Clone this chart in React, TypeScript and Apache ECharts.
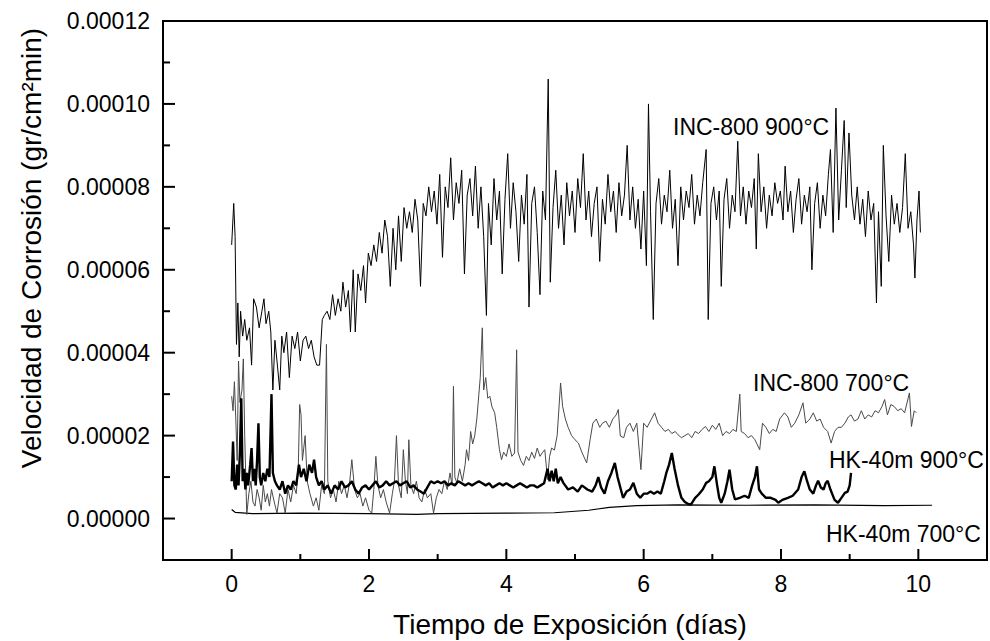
import React, { useEffect, useRef } from "react";
import * as echarts from "echarts";

// Values are in units of 1e-5 gr/cm²min ; time in days
const seriesNames = ["INC-800 900°C", "INC-800 700°C", "HK-40m 900°C", "HK-40m 700°C"];

const xTicks = [0, 2, 4, 6, 8, 10];
const xMinorTicks = [1, 3, 5, 7, 9];
const yTicks = [0, 2, 4, 6, 8, 10, 12];
const yMinorTicks = [1, 3, 5, 7, 9, 11];
const yTickLabels = ["0.00000", "0.00002", "0.00004", "0.00006", "0.00008", "0.00010", "0.00012"];
const xTitle = "Tiempo de Exposición (días)";
const yTitle = "Velocidad de Corrosión (gr/cm²min)";

const inc900: [number, number][] = [
  [0.0, 6.6], [0.03, 7.6], [0.05, 6.8], [0.07, 4.2], [0.09, 5.2], [0.11, 3.9], [0.13, 5.0], [0.16, 4.4],
  [0.19, 4.8], [0.22, 4.3], [0.26, 4.6], [0.29, 3.7], [0.32, 5.3], [0.36, 5.1], [0.4, 4.6], [0.44, 5.0],
  [0.47, 5.3], [0.5, 4.7], [0.54, 5.0], [0.57, 4.5], [0.6, 3.1], [0.63, 4.3], [0.66, 3.8], [0.7, 3.1],
  [0.73, 4.4], [0.76, 4.0], [0.8, 4.5], [0.84, 3.4], [0.88, 4.4], [0.92, 4.1], [0.96, 4.5], [1.0, 3.8],
  [1.04, 4.3], [1.08, 4.4], [1.12, 4.1], [1.16, 4.3], [1.2, 3.9], [1.24, 3.7], [1.28, 3.7], [1.32, 4.8],
  [1.35, 4.9], [1.39, 5.0], [1.43, 4.8], [1.47, 5.4], [1.51, 4.9], [1.55, 5.3], [1.59, 5.0], [1.62, 5.7],
  [1.66, 5.1], [1.7, 5.5], [1.73, 4.5], [1.77, 6.0], [1.8, 4.5], [1.84, 5.9], [1.88, 5.5], [1.92, 6.1],
  [1.95, 5.2], [1.99, 6.4], [2.03, 6.1], [2.07, 6.6], [2.11, 6.2], [2.15, 6.9], [2.19, 6.4], [2.23, 7.2],
  [2.27, 6.8], [2.31, 5.6], [2.35, 7.0], [2.39, 6.0], [2.43, 7.3], [2.47, 6.2], [2.51, 7.5], [2.55, 7.0],
  [2.59, 7.4], [2.63, 6.9], [2.67, 7.7], [2.71, 7.2], [2.75, 5.6], [2.79, 7.6], [2.83, 7.3], [2.87, 8.0],
  [2.91, 7.4], [2.95, 7.9], [2.99, 7.1], [3.03, 8.3], [3.07, 6.3], [3.11, 8.0], [3.15, 7.5], [3.19, 8.7],
  [3.23, 7.2], [3.27, 8.1], [3.31, 7.6], [3.35, 8.4], [3.39, 5.9], [3.43, 7.8], [3.47, 8.2], [3.51, 7.3],
  [3.55, 8.5], [3.59, 7.0], [3.63, 8.0], [3.67, 6.8], [3.71, 4.9], [3.74, 7.6], [3.78, 6.6], [3.82, 8.2],
  [3.86, 7.2], [3.9, 7.9], [3.94, 5.9], [3.98, 7.7], [4.02, 8.8], [4.06, 7.0], [4.1, 8.1], [4.14, 7.4],
  [4.18, 6.2], [4.22, 7.8], [4.26, 7.1], [4.3, 8.3], [4.33, 5.1], [4.37, 7.6], [4.41, 8.0], [4.45, 6.9],
  [4.49, 5.4], [4.53, 7.9], [4.57, 7.2], [4.61, 10.6], [4.64, 5.7], [4.68, 7.5], [4.72, 8.4], [4.76, 7.0],
  [4.8, 7.8], [4.84, 6.6], [4.88, 8.1], [4.92, 7.3], [4.96, 7.9], [5.0, 6.9], [5.04, 8.2], [5.08, 7.5],
  [5.12, 8.8], [5.16, 7.2], [5.2, 7.9], [5.24, 6.8], [5.28, 7.6], [5.32, 8.0], [5.36, 6.2], [5.4, 7.7],
  [5.44, 7.1], [5.48, 8.3], [5.52, 7.4], [5.56, 7.9], [5.6, 6.9], [5.64, 8.1], [5.68, 7.3], [5.72, 7.8],
  [5.76, 9.0], [5.8, 7.2], [5.84, 8.0], [5.88, 7.0], [5.92, 7.7], [5.96, 6.5], [6.0, 7.9], [6.04, 6.1],
  [6.07, 10.0], [6.1, 7.4], [6.14, 4.8], [6.18, 7.6], [6.22, 8.2], [6.26, 7.1], [6.3, 7.8], [6.34, 7.4],
  [6.38, 8.4], [6.42, 7.0], [6.46, 7.7], [6.5, 6.1], [6.54, 8.0], [6.58, 7.2], [6.62, 7.9], [6.66, 7.5],
  [6.7, 8.3], [6.74, 7.1], [6.78, 7.8], [6.82, 7.3], [6.86, 8.1], [6.91, 8.9], [6.94, 4.8], [6.98, 7.6],
  [7.02, 8.0], [7.06, 7.2], [7.1, 7.9], [7.13, 5.6], [7.17, 7.7], [7.21, 8.2], [7.25, 7.0], [7.29, 7.8],
  [7.33, 7.4], [7.37, 9.1], [7.41, 7.3], [7.45, 8.0], [7.49, 7.1], [7.53, 7.9], [7.57, 7.5], [7.61, 8.2],
  [7.64, 6.5], [7.67, 8.8], [7.71, 7.4], [7.75, 8.0], [7.79, 7.0], [7.83, 7.8], [7.87, 7.3], [7.91, 8.1],
  [7.95, 7.6], [7.99, 7.9], [8.03, 7.2], [8.06, 8.5], [8.1, 7.4], [8.14, 7.9], [8.18, 6.9], [8.22, 7.7],
  [8.26, 8.2], [8.3, 7.1], [8.34, 7.8], [8.38, 7.4], [8.42, 8.0], [8.45, 6.0], [8.49, 7.6], [8.53, 8.1],
  [8.57, 7.0], [8.61, 7.8], [8.65, 7.3], [8.69, 8.3], [8.72, 8.9], [8.76, 6.9], [8.8, 9.9], [8.84, 7.2],
  [8.88, 8.4], [8.92, 9.6], [8.95, 7.5], [8.99, 9.3], [9.03, 7.8], [9.07, 7.2], [9.11, 8.0], [9.15, 7.1],
  [9.19, 7.7], [9.23, 6.8], [9.27, 7.9], [9.31, 7.2], [9.35, 7.6], [9.39, 5.2], [9.42, 7.4], [9.46, 5.6],
  [9.49, 9.0], [9.53, 7.3], [9.57, 6.2], [9.61, 7.8], [9.65, 7.1], [9.69, 7.6], [9.73, 6.9], [9.77, 7.5],
  [9.81, 8.8], [9.85, 7.0], [9.89, 7.4], [9.93, 6.6], [9.95, 5.8], [9.98, 7.2], [10.01, 7.9], [10.03, 6.9],
];

const inc700: [number, number][] = [
  [0.0, 2.95], [0.02, 2.6], [0.04, 3.3], [0.06, 2.4], [0.08, 1.4], [0.1, 3.8], [0.12, 2.8], [0.15, 3.1],
  [0.17, 3.85], [0.19, 2.0], [0.22, 0.1], [0.25, 0.6], [0.28, 0.9], [0.31, 0.4], [0.34, 0.3], [0.37, 0.7],
  [0.4, 0.5], [0.43, 0.2], [0.46, 0.8], [0.49, 0.4], [0.52, 0.6], [0.55, 0.3], [0.58, 0.7], [0.62, 0.4],
  [0.66, 0.13], [0.7, 0.6], [0.74, 0.5], [0.78, 0.13], [0.82, 0.7], [0.86, 0.4], [0.9, 0.8], [0.94, 0.6],
  [0.97, 1.2], [0.99, 2.75], [1.01, 2.5], [1.03, 1.4], [1.07, 2.0], [1.1, 0.9], [1.14, 0.6], [1.19, 0.3],
  [1.23, 0.5], [1.27, 0.2], [1.31, 0.8], [1.35, 0.6], [1.38, 4.2], [1.4, 0.9], [1.44, 0.5], [1.48, 0.7],
  [1.52, 0.4], [1.56, 0.9], [1.6, 0.6], [1.64, 0.8], [1.68, 0.5], [1.72, 0.9], [1.75, 1.42], [1.79, 0.7],
  [1.83, 0.5], [1.87, 0.6], [1.91, 0.3], [1.95, 0.5], [2.0, 0.2], [2.04, 0.13], [2.07, 0.7], [2.1, 1.5],
  [2.13, 0.8], [2.17, 0.5], [2.21, 0.7], [2.25, 0.4], [2.3, 0.13], [2.34, 0.6], [2.37, 0.9], [2.4, 2.0],
  [2.43, 0.8], [2.47, 0.5], [2.5, 1.66], [2.53, 0.9], [2.56, 0.6], [2.58, 1.9], [2.61, 0.8], [2.65, 0.6],
  [2.69, 0.9], [2.73, 0.5], [2.77, 0.4], [2.81, 0.7], [2.85, 0.5], [2.9, 0.6], [2.94, 0.13], [2.98, 0.5],
  [3.02, 0.7], [3.06, 0.6], [3.1, 0.9], [3.14, 0.7], [3.18, 1.1], [3.21, 0.8], [3.23, 3.19], [3.25, 1.0],
  [3.28, 0.86], [3.32, 1.2], [3.36, 0.9], [3.4, 1.3], [3.42, 1.66], [3.45, 1.4], [3.48, 2.1], [3.51, 1.8],
  [3.54, 2.0], [3.57, 2.4], [3.6, 3.0], [3.62, 3.4], [3.65, 4.6], [3.67, 3.1], [3.7, 3.4], [3.73, 2.9],
  [3.76, 2.95], [3.79, 2.7], [3.83, 2.55], [3.86, 2.2], [3.9, 1.66], [3.93, 1.42], [3.96, 1.6], [4.0, 1.5],
  [4.04, 1.8], [4.08, 1.5], [4.12, 1.58], [4.15, 4.07], [4.17, 1.6], [4.21, 1.4], [4.25, 1.28], [4.29, 1.5],
  [4.33, 1.4], [4.37, 1.6], [4.41, 1.45], [4.45, 1.7], [4.49, 1.5], [4.53, 1.6], [4.56, 1.66], [4.6, 0.94],
  [4.63, 1.5], [4.66, 1.7], [4.7, 1.65], [4.74, 2.0], [4.79, 3.27], [4.82, 2.7], [4.86, 2.4], [4.9, 2.2],
  [4.95, 2.0], [5.0, 1.9], [5.05, 1.82], [5.1, 1.6], [5.17, 1.34], [5.22, 1.9], [5.26, 2.3], [5.31, 2.4],
  [5.36, 2.2], [5.4, 2.3], [5.45, 2.35], [5.5, 2.2], [5.55, 2.4], [5.6, 2.5], [5.63, 2.63], [5.66, 1.99],
  [5.71, 1.95], [5.75, 2.2], [5.8, 2.3], [5.85, 2.1], [5.9, 2.3], [5.96, 1.18], [6.0, 2.3], [6.05, 2.2],
  [6.11, 2.39], [6.16, 2.55], [6.21, 2.3], [6.26, 2.2], [6.31, 2.1], [6.36, 2.15], [6.41, 2.05], [6.46, 2.1],
  [6.5, 2.02], [6.55, 1.95], [6.6, 2.0], [6.65, 2.05], [6.7, 1.95], [6.75, 2.1], [6.8, 2.05], [6.85, 2.15],
  [6.9, 2.22], [6.95, 2.1], [7.0, 2.25], [7.05, 2.15], [7.1, 2.3], [7.15, 2.0], [7.2, 2.1], [7.25, 2.05],
  [7.3, 2.15], [7.35, 2.1], [7.4, 3.0], [7.42, 2.1], [7.47, 2.05], [7.52, 1.95], [7.57, 2.0], [7.62, 1.9],
  [7.69, 1.66], [7.73, 2.3], [7.78, 2.2], [7.83, 2.05], [7.88, 2.15], [7.93, 2.1], [7.98, 2.4], [8.05, 2.55],
  [8.1, 2.45], [8.15, 2.2], [8.2, 2.3], [8.26, 2.5], [8.32, 2.79], [8.36, 2.3], [8.42, 2.4], [8.47, 2.55],
  [8.52, 2.35], [8.57, 2.4], [8.62, 2.2], [8.68, 2.1], [8.73, 1.82], [8.78, 2.1], [8.83, 2.2], [8.88, 2.2],
  [8.93, 2.3], [8.98, 2.45], [9.02, 2.5], [9.07, 2.35], [9.12, 2.4], [9.17, 2.6], [9.22, 2.4], [9.27, 2.5],
  [9.32, 2.45], [9.37, 2.6], [9.42, 2.55], [9.47, 2.7], [9.51, 2.87], [9.55, 2.5], [9.6, 2.75], [9.65, 2.7],
  [9.7, 2.6], [9.75, 2.65], [9.8, 2.55], [9.87, 3.03], [9.9, 2.22], [9.94, 2.6], [9.97, 2.55],
];

const hk900: [number, number][] = [
  [0.0, 0.9], [0.02, 1.86], [0.04, 0.8], [0.06, 0.7], [0.08, 1.3], [0.1, 0.8], [0.12, 1.6], [0.14, 2.9],
  [0.16, 0.9], [0.18, 1.2], [0.2, 0.7], [0.22, 1.1], [0.24, 0.8], [0.27, 1.3], [0.29, 1.7], [0.31, 0.9],
  [0.33, 1.2], [0.35, 0.8], [0.37, 1.4], [0.39, 2.3], [0.41, 1.0], [0.43, 0.8], [0.46, 1.1], [0.49, 0.9],
  [0.52, 1.2], [0.55, 1.0], [0.58, 3.0], [0.6, 1.1], [0.63, 0.9], [0.66, 0.8], [0.7, 0.7], [0.74, 0.9],
  [0.78, 0.6], [0.82, 0.8], [0.86, 0.7], [0.9, 0.9], [0.94, 0.8], [0.98, 1.3], [1.01, 1.0], [1.05, 1.2],
  [1.09, 0.9], [1.13, 1.3], [1.17, 1.1], [1.2, 1.42], [1.23, 1.0], [1.27, 0.8], [1.31, 0.9], [1.35, 0.7],
  [1.4, 0.8], [1.45, 0.6], [1.5, 0.8], [1.55, 0.7], [1.6, 0.9], [1.65, 0.75], [1.7, 0.8], [1.75, 0.9],
  [1.8, 0.7], [1.85, 0.6], [1.9, 0.75], [1.95, 0.8], [2.0, 0.7], [2.05, 0.8], [2.1, 0.9], [2.15, 0.75],
  [2.2, 0.8], [2.25, 0.9], [2.3, 0.8], [2.35, 0.85], [2.4, 0.9], [2.45, 0.8], [2.5, 0.85], [2.55, 0.9],
  [2.6, 0.75], [2.65, 0.8], [2.7, 0.7], [2.75, 0.65], [2.8, 0.6], [2.85, 0.75], [2.9, 0.9], [2.95, 0.85],
  [3.0, 0.9], [3.05, 0.85], [3.1, 0.9], [3.15, 0.8], [3.2, 0.85], [3.25, 0.8], [3.3, 0.9], [3.35, 0.85],
  [3.4, 0.8], [3.45, 0.85], [3.5, 0.8], [3.55, 0.85], [3.6, 0.9], [3.65, 0.85], [3.7, 0.8], [3.75, 0.85],
  [3.8, 0.75], [3.85, 0.8], [3.9, 0.85], [3.95, 0.8], [4.0, 0.85], [4.05, 0.8], [4.1, 0.75], [4.15, 0.8],
  [4.2, 0.85], [4.25, 0.8], [4.3, 0.75], [4.35, 0.8], [4.4, 0.8], [4.45, 0.75], [4.5, 0.8], [4.55, 0.85],
  [4.6, 1.2], [4.63, 0.9], [4.66, 1.15], [4.69, 0.9], [4.72, 1.2], [4.75, 0.85], [4.79, 1.0], [4.83, 0.86],
  [4.9, 0.7], [4.97, 0.75], [5.04, 0.65], [5.1, 0.8], [5.18, 0.7], [5.25, 0.65], [5.3, 0.8], [5.34, 1.0],
  [5.38, 0.75], [5.43, 0.6], [5.48, 0.9], [5.53, 1.1], [5.58, 1.34], [5.62, 1.0], [5.66, 0.75], [5.7, 0.5],
  [5.75, 0.65], [5.8, 0.7], [5.85, 0.86], [5.9, 0.6], [5.95, 0.5], [6.0, 0.6], [6.05, 0.6], [6.1, 0.65],
  [6.15, 0.6], [6.2, 0.65], [6.25, 0.6], [6.3, 0.9], [6.33, 1.1], [6.37, 1.3], [6.41, 1.58], [6.45, 1.2],
  [6.5, 0.8], [6.55, 0.5], [6.6, 0.4], [6.65, 0.35], [6.69, 0.34], [6.75, 0.5], [6.8, 0.58], [6.86, 0.7],
  [6.91, 0.86], [6.95, 0.9], [7.0, 1.0], [7.03, 1.26], [7.07, 0.8], [7.1, 0.5], [7.13, 0.38], [7.18, 0.6],
  [7.22, 0.9], [7.25, 1.18], [7.29, 0.7], [7.33, 0.46], [7.4, 0.5], [7.47, 0.55], [7.53, 0.5], [7.58, 0.8],
  [7.62, 1.0], [7.65, 1.26], [7.68, 0.7], [7.72, 0.6], [7.78, 0.5], [7.85, 0.5], [7.92, 0.45], [7.96, 0.38],
  [8.02, 0.45], [8.1, 0.5], [8.17, 0.55], [8.25, 0.7], [8.3, 1.0], [8.34, 1.14], [8.38, 0.9], [8.42, 0.7],
  [8.47, 0.6], [8.51, 0.8], [8.54, 0.91], [8.58, 0.75], [8.62, 0.7], [8.65, 0.85], [8.68, 0.91], [8.72, 0.7],
  [8.78, 0.45], [8.83, 0.38], [8.88, 0.5], [8.93, 0.62], [8.97, 0.65], [9.0, 0.8], [9.02, 1.1],
];

const hk700: [number, number][] = [
  [0.0, 0.22], [0.05, 0.15], [0.3, 0.12], [1.0, 0.13], [2.0, 0.12], [2.7, 0.1], [3.0, 0.12], [4.0, 0.13],
  [4.7, 0.14], [5.2, 0.2], [5.5, 0.27], [5.9, 0.31], [6.5, 0.33], [7.5, 0.32], [8.5, 0.33], [9.5, 0.31],
  [10.2, 0.32],
];

const FONT = '"Liberation Sans", Arial, Helvetica, sans-serif';
const X_MIN = -1, X_MAX = 11, Y_MIN = -1, Y_MAX = 12;

export default function App() {
  const ref = useRef<HTMLDivElement>(null);
  useEffect(() => {
    if (!ref.current) return;
    const chart = echarts.init(ref.current, null, { renderer: "svg" });
    const option = {
      animation: false,
      backgroundColor: "#fff",
      grid: {
        left: 163, right: 3, top: 21, bottom: 81,
        show: true, borderColor: "#000", borderWidth: 2,
      },
      xAxis: {
        type: "value", min: X_MIN, max: X_MAX, position: "bottom",
        splitLine: { show: false },
        axisLine: { show: true, onZero: false, lineStyle: { color: "#000", width: 2 } },
        axisTick: { show: false },
        axisLabel: { show: true, customValues: xTicks, color: "#000", fontSize: 23, fontFamily: FONT, margin: 12 },
      },
      yAxis: {
        type: "value", min: Y_MIN, max: Y_MAX, position: "left",
        splitLine: { show: false },
        axisLine: { show: true, onZero: false, lineStyle: { color: "#000", width: 2 } },
        axisTick: { show: false },
        axisLabel: {
          show: true, customValues: yTicks, color: "#000", fontSize: 23, fontFamily: FONT, margin: 13,
          formatter: (v: number) => yTickLabels[yTicks.indexOf(Math.round(v))] ?? "",
        },
      },
      series: [
        { name: seriesNames[0], type: "line", data: inc900, showSymbol: false, symbol: "none", silent: true,
          lineStyle: { color: "#000", width: 1 }, z: 3 },
        { name: seriesNames[1], type: "line", data: inc700, showSymbol: false, symbol: "none", silent: true,
          lineStyle: { color: "#4a4a4a", width: 1 }, z: 2 },
        { name: seriesNames[2], type: "line", data: hk900, showSymbol: false, symbol: "none", silent: true,
          lineStyle: { color: "#000", width: 2.4 }, z: 4 },
        { name: seriesNames[3], type: "line", data: hk700, showSymbol: false, symbol: "none", silent: true,
          lineStyle: { color: "#000", width: 1.2 }, z: 1 },
      ],
    };
    chart.setOption(option as any);

    // Tick marks placed through the axes' own scales
    const px = (t: number) => chart.convertToPixel({ xAxisIndex: 0 }, t) as number;
    const py = (v: number) => chart.convertToPixel({ yAxisIndex: 0 }, v) as number;
    const left = px(X_MIN);
    const bottom = py(Y_MIN);
    const tickStyle = { stroke: "#000", lineWidth: 2 };
    const ticks: any[] = [];
    xTicks.forEach((t) => ticks.push({ type: "line", silent: true, z: 50,
      shape: { x1: px(t), y1: bottom, x2: px(t), y2: bottom - 11 }, style: tickStyle }));
    xMinorTicks.forEach((t) => ticks.push({ type: "line", silent: true, z: 50,
      shape: { x1: px(t), y1: bottom, x2: px(t), y2: bottom - 6 }, style: tickStyle }));
    yTicks.forEach((v) => ticks.push({ type: "line", silent: true, z: 50,
      shape: { x1: left, y1: py(v), x2: left + 12, y2: py(v) }, style: tickStyle }));
    yMinorTicks.forEach((v) => ticks.push({ type: "line", silent: true, z: 50,
      shape: { x1: left, y1: py(v), x2: left + 7, y2: py(v) }, style: tickStyle }));

    const texts = [
      { type: "text", x: 673, y: 127, silent: true,
        style: { text: seriesNames[0], fill: "#000", font: `23px ${FONT}`, align: "left", verticalAlign: "middle" } },
      { type: "text", x: 753, y: 383, silent: true,
        style: { text: seriesNames[1], fill: "#000", font: `23px ${FONT}`, align: "left", verticalAlign: "middle" } },
      { type: "text", x: 829, y: 460, silent: true,
        style: { text: seriesNames[2], fill: "#000", font: `23px ${FONT}`, align: "left", verticalAlign: "middle" } },
      { type: "text", x: 826, y: 534, silent: true,
        style: { text: seriesNames[3], fill: "#000", font: `23px ${FONT}`, align: "left", verticalAlign: "middle" } },
      { type: "text", x: 570, y: 624, silent: true,
        style: { text: xTitle, fill: "#000", font: `28px ${FONT}`, align: "center", verticalAlign: "middle" } },
      { type: "text", x: 31, y: 248, rotation: Math.PI / 2, silent: true,
        style: { text: yTitle, fill: "#000", font: `28px ${FONT}`, align: "center", verticalAlign: "middle" } },
    ];
    chart.setOption({ graphic: [...texts, ...ticks] } as any);
    return () => chart.dispose();
  }, []);
  return (
    <div
      ref={ref}
      style={{ position: "fixed", left: 0, top: 0, width: 990, height: 641, background: "#fff" }}
    />
  );
}
